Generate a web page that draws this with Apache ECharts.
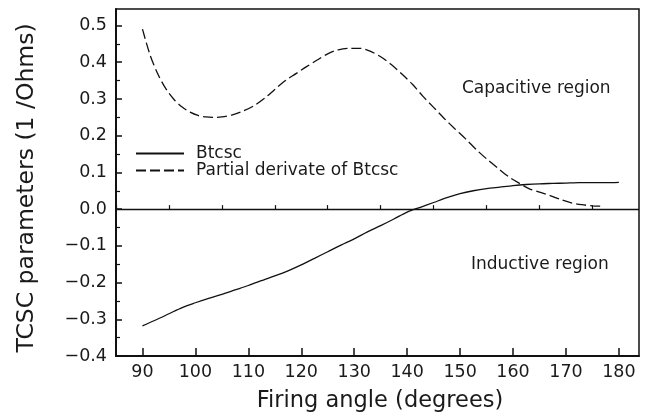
<!DOCTYPE html>
<html>
<head>
<meta charset="utf-8">
<script src="https://cdn.jsdelivr.net/npm/echarts@6/dist/echarts.min.js"></script>
<style>
html,body{margin:0;padding:0;background:#fff;}
#chart{width:648px;height:418px;}
</style>
</head>
<body>
<div id="chart"></div>
<script>
// ---- data ----
var btcscAngles = [90, 92.5, 95, 97.5, 100, 102.5, 105, 107.5, 110, 112.5, 115, 117.5, 120, 122.5, 125, 127.5, 130, 132.5, 135, 137.5, 140, 142.5, 145, 147.5, 150, 152.5, 155, 157.5, 160, 162.5, 165, 167.5, 170, 172.5, 175, 177.5, 180];
var btcscValues = [-0.318, -0.302, -0.285, -0.268, -0.255, -0.243, -0.232, -0.220, -0.208, -0.195, -0.182, -0.168, -0.152, -0.134, -0.116, -0.098, -0.081, -0.062, -0.045, -0.027, -0.008, 0.005, 0.018, 0.031, 0.042, 0.050, 0.056, 0.060, 0.064, 0.067, 0.069, 0.070, 0.071, 0.072, 0.072, 0.072, 0.073];

var derivAngles = [90, 91.5, 93, 94.5, 96, 97.5, 99, 100.5, 102, 103.5, 105, 107, 109, 111, 113, 115, 117, 119, 121, 123, 125, 127, 129, 131, 133, 135, 137, 139, 141, 143, 145, 147, 149, 151, 153, 155, 157, 159, 161, 163, 165, 167, 169, 171, 173, 175, 177];
var derivValues = [0.490, 0.417, 0.365, 0.326, 0.298, 0.278, 0.264, 0.255, 0.251, 0.250, 0.251, 0.257, 0.267, 0.281, 0.301, 0.326, 0.350, 0.369, 0.388, 0.406, 0.423, 0.434, 0.438, 0.438, 0.430, 0.415, 0.394, 0.368, 0.340, 0.307, 0.277, 0.247, 0.219, 0.192, 0.163, 0.137, 0.113, 0.090, 0.072, 0.056, 0.046, 0.037, 0.026, 0.017, 0.012, 0.009, 0.008];

var xTickLabels = [90, 100, 110, 120, 130, 140, 150, 160, 170, 180];
var xMinorTicks = [85, 95, 105, 115, 125, 135, 145, 155, 165, 175];
var yTickLabels = [-0.4, -0.3, -0.2, -0.1, 0.0, 0.1, 0.2, 0.3, 0.4, 0.5];
var yMinorTicks = [-0.35, -0.25, -0.15, -0.05, 0.05, 0.15, 0.25, 0.35, 0.45];

var seriesNames = ['Btcsc', 'Partial derivate of Btcsc'];

function pairs(xs, ys) { return xs.map(function (x, i) { return [x, ys[i]]; }); }

var FONT = 'DejaVu Sans';
var INK = '#111';
var TXT = '#1a1a1a';
var X_MIN = 85, X_MAX = 183.8, Y_MIN = -0.4, Y_MAX = 0.545;

var chart = echarts.init(document.getElementById('chart'), null, {renderer: 'canvas'});
chart.setOption({
  animation: false,
  backgroundColor: '#fff',
  grid: {left: 116, right: 9, top: 9, bottom: 62, show: true, borderColor: INK, borderWidth: 1.5, containLabel: false},
  legend: {
    orient: 'vertical', left: 130, top: 140, padding: 5,
    itemWidth: 48, itemHeight: 14, itemGap: 0,
    data: seriesNames,
    itemStyle: {color: 'rgba(0,0,0,0)', borderColor: 'rgba(0,0,0,0)', borderWidth: 0},
    textStyle: {fontFamily: FONT, fontSize: 17, lineHeight: 17, color: TXT, padding: [0, 0, 0, 7]}
  },
  xAxis: [{
    type: 'value', min: X_MIN, max: X_MAX, position: 'bottom',
    name: 'Firing angle (degrees)', nameLocation: 'middle', nameGap: 34,
    nameTextStyle: {fontFamily: FONT, fontSize: 22.5, color: TXT, padding: [0, 0, 0, 5]},
    axisLine: {show: true, onZero: false, lineStyle: {color: INK, width: 2}},
    axisTick: {show: true, inside: true, length: 8, customValues: xTickLabels, lineStyle: {color: INK, width: 1.5}},
    axisLabel: {customValues: xTickLabels, fontFamily: FONT, fontSize: 17.5, color: TXT, margin: 7},
    splitLine: {show: false}
  }, {
    type: 'value', min: X_MIN, max: X_MAX, position: 'bottom',
    axisLine: {show: false},
    axisTick: {show: true, inside: true, length: 4, customValues: xMinorTicks, lineStyle: {color: INK, width: 1.2}},
    axisLabel: {show: false},
    splitLine: {show: false}
  }],
  yAxis: [{
    type: 'value', min: Y_MIN, max: Y_MAX, position: 'left',
    name: 'TCSC parameters (1 /Ohms)', nameLocation: 'middle', nameGap: 77,
    nameTextStyle: {fontFamily: FONT, fontSize: 23.5, color: TXT, padding: [0, 11, 0, 0]},
    axisLine: {show: true, onZero: false, lineStyle: {color: INK, width: 2}},
    axisTick: {show: true, inside: true, length: 6, customValues: yTickLabels, lineStyle: {color: INK, width: 1.5}},
    axisLabel: {customValues: yTickLabels, fontFamily: FONT, fontSize: 17.5, color: TXT, margin: 9,
      formatter: function (v) { return v.toFixed(1).replace('-', '\u2212'); }},
    splitLine: {show: false}
  }, {
    type: 'value', min: Y_MIN, max: Y_MAX, position: 'left',
    axisLine: {show: false},
    axisTick: {show: true, inside: true, length: 4, customValues: yMinorTicks, lineStyle: {color: INK, width: 1.2}},
    axisLabel: {show: false},
    splitLine: {show: false}
  }],
  graphic: [
    {type: 'text', left: 462, top: 80, style: {text: 'Capacitive region', fontFamily: FONT, fontSize: 17, fill: TXT}},
    {type: 'text', left: 471, top: 256, style: {text: 'Inductive region', fontFamily: FONT, fontSize: 17, fill: TXT}}
  ],
  series: [{
    name: seriesNames[0], type: 'line', xAxisIndex: 0, yAxisIndex: 0,
    data: pairs(btcscAngles, btcscValues),
    symbol: 'none', smooth: 0.3,
    lineStyle: {color: INK, width: 1.3, type: 'solid'},
    itemStyle: {color: INK},
    markLine: {
      silent: true, symbol: 'none', label: {show: false},
      lineStyle: {color: INK, width: 1.3, type: 'solid'},
      data: [{yAxis: 0}]
    }
  }, {
    name: seriesNames[1], type: 'line', xAxisIndex: 0, yAxisIndex: 0,
    data: pairs(derivAngles, derivValues),
    symbol: 'none', smooth: 0.3,
    lineStyle: {color: INK, width: 1.3, type: [10, 4]},
    itemStyle: {color: INK}
  }]
});
</script>
</body>
</html>
